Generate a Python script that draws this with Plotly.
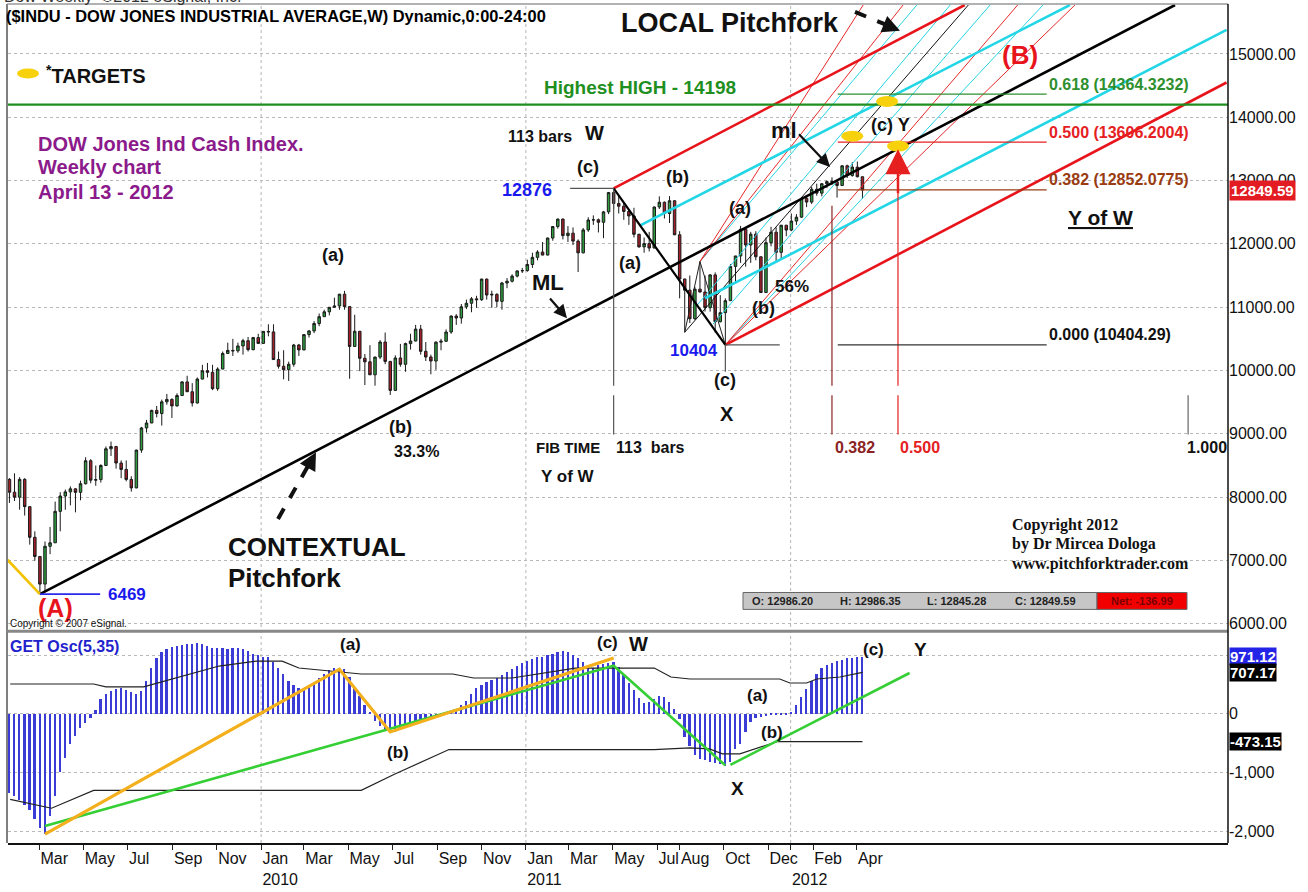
import plotly.graph_objects as go
import pandas as pd

# ---------------- data ----------------
first_week = "2009-01-19"
opens = [8281, 8078, 8000, 8281, 7850, 7366, 7063, 6627, 7224, 7279, 7776, 8018, 8083, 8131, 8076, 8212, 8575, 8268, 8277, 8500,
         8764, 8799, 8539, 8438, 8280, 8146, 8743, 9093, 9171, 9370, 9321, 9505, 9544, 9441, 9605, 9820, 9665, 9487, 9865, 9996,
         9972, 9713, 10023, 10270, 10318, 10310, 10388, 10471, 10329, 10520, 10428, 10618, 10610, 10173, 10067, 10013, 10099, 10403, 10325, 10567,
         10625, 10742, 10850, 10927, 10998, 11019, 11205, 11009, 10380, 10620, 10193, 10137, 9932, 10212, 10450, 10144, 9686, 10198, 10098, 10425,
         10466, 10654, 10303, 10213, 10150, 10448, 10462, 10608, 10860, 10829, 11006, 11062, 11132, 11118, 11444, 11192, 11203, 11092, 11382, 11410,
         11491, 11573, 11578, 11674, 11787, 11871, 11823, 12092, 12273, 12391, 12130, 12169, 12044, 11858, 12220, 12377, 12380, 12341, 12505, 12810,
         12638, 12595, 12512, 12441, 12151, 11952, 12004, 11934, 12582, 12657, 12480, 12681, 12143, 11445, 11269, 10818, 11285, 11240, 10992, 11510,
         10771, 10913, 11103, 11644, 11809, 12231, 11983, 12153, 11796, 11231, 12019, 12184, 11866, 12294, 12218, 12360, 12422, 12720, 12660, 12862,
         12801, 12950, 12983, 12978, 12922, 13233, 13081, 13212, 13060]
highs = [8300, 8376, 8315, 8300, 7850, 7460, 7063, 7300, 7530, 7930, 8078, 8120, 8170, 8140, 8260, 8630, 8600, 8500, 8520, 8800,
         8878, 8810, 8580, 8580, 8330, 8750, 9110, 9220, 9380, 9440, 9540, 9630, 9560, 9640, 9830, 9917, 9800, 9890, 10090, 10120,
         10090, 10050, 10300, 10440, 10500, 10440, 10500, 10530, 10530, 10580, 10620, 10730, 10730, 10300, 10320, 10140, 10420, 10420, 10570, 10640,
         10780, 10900, 10960, 11000, 11150, 11210, 11258, 11010, 10880, 10620, 10260, 10400, 10220, 10480, 10600, 10150, 10240, 10420, 10440, 10580,
         10720, 10720, 10450, 10250, 10460, 10500, 10650, 10870, 10890, 11050, 11120, 11160, 11180, 11450, 11450, 11260, 11220, 11400, 11460, 11520,
         11580, 11620, 11750, 11860, 11900, 12030, 12100, 12280, 12400, 12400, 12280, 12260, 12070, 12250, 12420, 12450, 12400, 12520, 12820, 12876,
         12760, 12650, 12530, 12570, 12160, 12100, 12190, 12590, 12750, 12670, 12753, 12690, 12200, 11450, 11500, 11320, 11720, 11500, 11520, 11550,
         11190, 11140, 11680, 11810, 12284, 12240, 12190, 12200, 11800, 12100, 12270, 12260, 12300, 12300, 12480, 12470, 12730, 12760, 12900, 12950,
         12960, 13000, 13050, 13000, 13240, 13250, 13290, 13300, 13060]
lows = [7909, 7939, 7802, 7709, 7250, 6996, 6469, 6517, 7100, 7279, 7460, 7800, 7870, 7760, 7950, 8200, 8220, 8180, 8230, 8500,
        8650, 8450, 8300, 8250, 8087, 8140, 8700, 9020, 9170, 9260, 9130, 9460, 9250, 9430, 9600, 9660, 9430, 9480, 9860, 9890,
        9690, 9680, 10020, 10260, 10230, 10280, 10250, 10300, 10320, 10420, 10430, 10540, 10170, 10030, 9860, 9835, 10060, 10230, 10320, 10520,
        10590, 10700, 10850, 10870, 10990, 10960, 10960, 9870, 10380, 9990, 9770, 9930, 9760, 10180, 10100, 9614, 9680, 10060, 9980, 10330,
        10460, 10250, 10150, 9940, 10010, 10320, 10450, 10580, 10720, 10740, 10970, 10920, 10990, 11100, 11120, 10990, 11000, 10960, 11300, 11390,
        11470, 11540, 11560, 11620, 11740, 11820, 11820, 12050, 12240, 12070, 12030, 11980, 11555, 11850, 12190, 12300, 12180, 12090, 12470, 12550,
        12480, 12380, 12300, 12100, 11940, 11860, 11880, 11930, 12550, 12400, 12330, 12140, 11140, 10604, 10750, 10800, 11230, 10930, 10930, 10600,
        10760, 10404, 11100, 11390, 11700, 11640, 11700, 11740, 11231, 11230, 11960, 11730, 11770, 12120, 12200, 12300, 12410, 12580, 12630, 12760,
        12750, 12880, 12930, 12730, 12920, 13040, 13060, 13050, 12710]
closes = [8078, 8000, 8281, 7850, 7366, 7063, 6627, 7224, 7279, 7776, 8018, 8083, 8131, 8076, 8212, 8575, 8268, 8277, 8500, 8764,
          8799, 8539, 8438, 8280, 8146, 8743, 9093, 9171, 9370, 9321, 9505, 9544, 9441, 9605, 9820, 9665, 9487, 9865, 9996, 9972,
          9713, 10023, 10270, 10318, 10310, 10388, 10471, 10329, 10520, 10428, 10618, 10610, 10173, 10067, 10013, 10099, 10403, 10325, 10567, 10625,
          10742, 10850, 10927, 10998, 11019, 11205, 11009, 10380, 10620, 10193, 10137, 9932, 10212, 10450, 10144, 9686, 10198, 10098, 10425, 10466,
          10654, 10303, 10213, 10150, 10448, 10462, 10608, 10860, 10829, 11006, 11062, 11132, 11118, 11444, 11192, 11203, 11092, 11382, 11410, 11491,
          11573, 11578, 11674, 11787, 11871, 11823, 12092, 12273, 12391, 12130, 12169, 12044, 11858, 12220, 12377, 12380, 12341, 12505, 12810, 12638,
          12595, 12512, 12441, 12151, 11952, 12004, 11934, 12582, 12657, 12480, 12681, 12143, 11445, 11269, 10818, 11285, 11240, 10992, 11510, 10771,
          10913, 11103, 11644, 11809, 12231, 11983, 12153, 11796, 11231, 12019, 12184, 11866, 12294, 12218, 12360, 12422, 12720, 12660, 12862, 12801,
          12950, 12983, 12978, 12922, 13233, 13081, 13212, 13060, 12850]
osc = [-1350, -1400, -1480, -1560, -1650, -1800, -1950, -2050, -1750, -1400, -1000, -750, -520, -380, -250, -160, -80, 60, 250, 330,
       380, 420, 440, 400, 370, 330, 380, 560, 780, 950, 1050, 1100, 1130, 1150, 1170, 1180, 1190, 1200, 1180, 1150,
       1120, 1110, 1110, 1100, 1110, 1120, 1100, 1060, 1020, 990, 960, 960, 880, 780, 680, 560, 480, 440, 420, 450,
       520, 600, 680, 740, 770, 780, 760, 620, 450, 300, 150, 20, -120, -220, -280, -310, -320, -280, -240, -200,
       -150, -110, -80, -60, -40, -20, 20, 40, 70, 150, 220, 330, 430, 480, 540, 570, 610, 660, 710, 760,
       810, 860, 890, 930, 960, 970, 990, 1020, 1050, 1060, 1050, 1000, 940, 880, 800, 780, 820, 840, 860, 880,
       800, 670, 520, 400, 260, 180, 200, 250, 300, 280, 200, 80, -100, -400, -550, -700, -770, -800, -820, -850,
       -860, -900, -820, -600, -520, -320, -150, -80, -60, -40, -30, -20, -15, -10, 30, 150, 280, 420, 560, 680,
       770, 830, 870, 900, 920, 940, 950, 960, 971]

upper_band_dates = ["2009-01-20", "2009-05-15", "2009-06-01", "2009-07-23", "2009-11-04", "2009-12-26", "2010-01-30",
                    "2010-02-22", "2010-05-19", "2010-09-22", "2010-10-21", "2010-12-13", "2011-03-10", "2011-06-27",
                    "2011-07-20", "2011-08-15", "2011-12-17", "2011-12-31", "2012-01-23", "2012-02-06", "2012-03-09", "2012-04-09"]
upper_band_vals = [508, 508, 458, 458, 814, 898, 898, 780, 678, 678, 610, 610, 780, 780, 627, 593, 593, 525, 525, 593, 627, 707.17]
lower_band_dates = ["2009-01-20", "2009-03-18", "2009-05-15", "2010-05-19", "2010-07-03", "2010-09-17", "2011-06-27",
                    "2011-08-15", "2011-09-11", "2011-09-29", "2011-10-23", "2011-12-14", "2012-04-09"]
lower_band_vals = [-1458, -1610, -1305, -1305, -1034, -610, -610, -582, -599, -684, -684, -473.15, -473.15]

orange_dates = ["2009-03-09", "2010-04-19", "2010-06-28", "2011-05-02"]
orange_vals = [-2050, 760, -310, 950]
green1_dates = ["2009-03-09", "2011-05-02", "2011-10-03"]
green1_vals = [-1915, 820, -880]
green2_dates = ["2011-10-10", "2012-06-13"]
green2_vals = [-870, 695]

month_ticks = ["2009-03-01", "2009-05-01", "2009-07-01", "2009-09-01", "2009-11-01", "2010-01-01", "2010-03-01",
               "2010-05-01", "2010-07-01", "2010-09-01", "2010-11-01", "2011-01-01", "2011-03-01", "2011-05-01",
               "2011-07-01", "2011-08-01", "2011-10-01", "2011-12-01", "2012-01-01", "2012-02-01", "2012-04-01"]
month_labels = ["Mar", "May", "Jul", "Sep", "Nov", "Jan<br>2010", "Mar", "May", "Jul", "Sep", "Nov", "Jan<br>2011",
                "Mar", "May", "Jul", "Aug", "Oct", "Dec", " <br>2012", "Feb", "Apr"]
year_starts = ["2010-01-01", "2011-01-01", "2012-01-01"]
price_ticks = [6000, 7000, 8000, 9000, 10000, 11000, 12000, 13000, 14000, 15000]
price_tick_labels = ["6000.00", "7000.00", "8000.00", "9000.00", "10000.00", "11000.00", "12000.00", "13000.00",
                     "14000.00", "15000.00"]
osc_ticks = [-2000, -1000, 0, 1000]
osc_tick_labels = ["-2,000", "-1,000", "0", ""]

highest_high = 14198
last_close = 12849.59
osc_tags = [971.12, 707.17, -473.15]
fib_levels = [14364.3232, 13606.2004, 12852.0775, 10404.29]
fib_names = ["0.618 (14364.3232)", "0.500 (13606.2004)", "0.382 (12852.0775)", "0.000 (10404.29)"]
fib_span = ["2012-03-06", "2012-12-19"]

# pitchfork / trend lines: (x0, y0, x1, y1)
context_ml = ("2009-03-02", 6469, "2013-06-14", 15772)
context_red = [("2011-05-02", 12876, "2012-08-28", 15772), ("2011-10-03", 10404, "2013-08-24", 14548)]
context_cyan = [("2011-06-07", 12287, "2013-01-20", 15772), ("2011-09-05", 11141, "2013-08-24", 15380)]
local_red = [("2011-08-29", 11720, "2012-06-04", 15772), ("2011-10-03", 10404, "2012-11-09", 15772),
             ("2011-08-29", 11720, "2012-04-10", 15772), ("2011-10-03", 10404, "2013-01-27", 15772)]
local_cyan = [("2011-08-25", 11030, "2012-08-08", 15772), ("2011-09-16", 10733, "2012-10-02", 15772),
              ("2011-10-03", 10404, "2012-12-14", 15772), ("2011-08-29", 11720, "2012-06-23", 15772)]
local_ml = ("2011-08-08", 10604, "2012-09-02", 15772)
local_handle_dates = ["2011-08-08", "2011-08-29", "2011-10-03"]
local_handle_vals = [10604, 11720, 10404]
w_to_x = ("2011-05-02", 12876, "2011-10-03", 10404)
yellow_handle = ("2009-01-15", 7028, "2009-03-02", 6469)
targets_dates = ["2012-03-26", "2012-05-13", "2012-05-28"]
targets_vals = [13700, 14250, 13545]

# time verticals: (date, y_top, y_bottom, color)
time_lines = [("2011-05-02", 12876, 9760, "#555555"), ("2011-05-02", 9610, 8990, "#555555"),
              ("2011-10-03", 10404, 9980, "#555555"),
              ("2012-02-27", 12600, 9760, "#8b2323"), ("2012-02-27", 9610, 8990, "#8b2323"),
              ("2012-05-28", 13300, 9760, "#e5201f"), ("2012-05-28", 9610, 8990, "#e5201f"),
              ("2013-07-02", 9610, 8990, "#666666")]
# short horizontal levels: (x0, x1, level, color)
short_levels = [("2011-03-03", "2011-05-02", 12876, "#555555"), ("2011-10-03", "2011-12-17", 10404, "#555555"),
                ("2009-03-02", "2009-05-24", 6469, "#2a2aee")]

# ---------------- layout geometry ----------------
WIDTH, HEIGHT = 1308, 892
PL, PR, PT, PB = 8, 1228, 4, 848
SEP = 635
ARIAL = "Liberation Sans, Arial, sans-serif"
SERIF = "Liberation Serif, Times New Roman, serif"


def PX(x):
    return (x - PL) / (PR - PL)


def PY(y):
    return (PB - y) / (PB - PT)


dates = pd.date_range(first_week, periods=len(closes), freq="7D")

fig = go.Figure()

fig.add_trace(go.Candlestick(
    x=dates, open=opens, high=highs, low=lows, close=closes,
    increasing=dict(fillcolor="#2e9c3f", line=dict(color="#1a1a1a", width=1)),
    decreasing=dict(fillcolor="#a3202b", line=dict(color="#1a1a1a", width=1)),
    whiskerwidth=0, xaxis="x", yaxis="y", hoverinfo="skip", showlegend=False))


def seg(x0, y0, x1, y1, color, width, yaxis="y", dash=None):
    fig.add_trace(go.Scatter(x=[x0, x1], y=[y0, y1], mode="lines", xaxis="x", yaxis=yaxis,
                             line=dict(color=color, width=width, dash=dash), hoverinfo="skip", showlegend=False))


# main panel lines
for (x0, y0, x1, y1) in local_cyan:
    seg(x0, y0, x1, y1, "#27d3e3", 1)
for (x0, y0, x1, y1) in local_red:
    seg(x0, y0, x1, y1, "#e42a2a", 1)
seg(*local_ml, "#111111", 1)
fig.add_trace(go.Scatter(x=local_handle_dates, y=local_handle_vals, mode="lines", xaxis="x", yaxis="y",
                         line=dict(color="#222222", width=1), hoverinfo="skip", showlegend=False))
for (x0, y0, x1, y1) in context_cyan:
    seg(x0, y0, x1, y1, "#22d6e6", 2.6)
for (x0, y0, x1, y1) in context_red:
    seg(x0, y0, x1, y1, "#e8141c", 2.6)
seg(*context_ml, "#000000", 2.6)
seg(*w_to_x, "#000000", 2.2)
seg(*yellow_handle, "#f2c200", 2.6)

for (d, yt, yb, c) in time_lines:
    seg(d, yt, d, yb, c, 1.2)
for (x0, x1, lv, c) in short_levels:
    seg(x0, lv, x1, lv, c, 1.6 if c == "#2a2aee" else 1.2)
fib_colors = ["#2e8f2e", "#e5201f", "#9a3c12", "#333333"]
for lv, c in zip(fib_levels, fib_colors):
    seg(fib_span[0], lv, fib_span[1], lv, c, 1.2)

# lower panel: oscillator
fig.add_trace(go.Bar(x=dates, y=osc, xaxis="x", yaxis="y2", width=2.4 * 86400000,
                     marker=dict(color="#3b3bd6", line=dict(width=0)), hoverinfo="skip", showlegend=False))
fig.add_trace(go.Scatter(x=upper_band_dates, y=upper_band_vals, mode="lines", xaxis="x", yaxis="y2",
                         line=dict(color="#222222", width=1.2), hoverinfo="skip", showlegend=False))
fig.add_trace(go.Scatter(x=lower_band_dates, y=lower_band_vals, mode="lines", xaxis="x", yaxis="y2",
                         line=dict(color="#222222", width=1.2), hoverinfo="skip", showlegend=False))
fig.add_trace(go.Scatter(x=green1_dates, y=green1_vals, mode="lines", xaxis="x", yaxis="y2",
                         line=dict(color="#35cf35", width=2.6), hoverinfo="skip", showlegend=False))
fig.add_trace(go.Scatter(x=green2_dates, y=green2_vals, mode="lines", xaxis="x", yaxis="y2",
                         line=dict(color="#35cf35", width=2.6), hoverinfo="skip", showlegend=False))
fig.add_trace(go.Scatter(x=orange_dates, y=orange_vals, mode="lines", xaxis="x", yaxis="y2",
                         line=dict(color="#f3b01c", width=3.2), hoverinfo="skip", showlegend=False))

shapes = []
# highest high line (full width)
shapes.append(dict(type="line", xref="paper", x0=0, x1=1, yref="y", y0=highest_high, y1=highest_high,
                   line=dict(color="#1f8f1f", width=2.2)))
# year grid lines
for d in year_starts:
    shapes.append(dict(type="line", xref="x", x0=d, x1=d, yref="paper", y0=0, y1=1,
                       line=dict(color="#b5b5b5", width=1, dash="dot"), layer="below"))
# targets (yellow ovals)
for d, v in zip(targets_dates, targets_vals):
    shapes.append(dict(type="circle", xref="x", yref="y", xsizemode="pixel", ysizemode="pixel",
                       xanchor=d, yanchor=v, x0=-11, x1=11, y0=-5.5, y1=5.5,
                       fillcolor="#f6d10c", line=dict(width=0)))
# legend oval
shapes.append(dict(type="circle", xref="paper", yref="paper", x0=PX(17), x1=PX(39), y0=PY(69), y1=PY(79),
                   fillcolor="#f6d10c", line=dict(width=0)))
# frame
shapes += [
    dict(type="line", xref="paper", yref="paper", x0=PX(7), x1=PX(7), y0=0, y1=1, line=dict(color="#555", width=1.5)),
    dict(type="line", xref="paper", yref="paper", x0=PX(7), x1=1, y0=1, y1=1, line=dict(color="#999", width=1.5)),
    dict(type="line", xref="paper", yref="paper", x0=PX(7), x1=1, y0=PY(SEP), y1=PY(SEP), line=dict(color="#888", width=3)),
    dict(type="line", xref="paper", yref="paper", x0=1, x1=1, y0=0, y1=1, line=dict(color="#111", width=1.5)),
]
# OHLC status box
shapes += [
    dict(type="rect", xref="paper", yref="paper", x0=PX(743), x1=PX(1097), y0=PY(613), y1=PY(596),
         fillcolor="#c6c6c6", line=dict(color="#666", width=1)),
    dict(type="rect", xref="paper", yref="paper", x0=PX(1097), x1=PX(1187), y0=PY(613), y1=PY(596),
         fillcolor="#f20000", line=dict(color="#666", width=1)),
]
# dashed arrow shafts
shapes += [
    dict(type="line", xref="paper", yref="paper", x0=PX(855), y0=PY(12), x1=PX(889), y1=PY(26),
         line=dict(color="#111", width=4, dash="dash")),
    dict(type="line", xref="paper", yref="paper", x0=PX(278), y0=PY(522), x1=PX(309), y1=PY(467),
         line=dict(color="#111", width=4, dash="dash")),
]

ann = []


def lab(text, x, y, size=18, color="#111111", xanchor="center", family=ARIAL, bold=True):
    ann.append(dict(text=("<b>%s</b>" % text) if bold else text, x=PX(x), y=PY(y), xref="paper", yref="paper",
                    xanchor=xanchor, yanchor="middle", showarrow=False,
                    font=dict(size=size, color=color, family=family)))


def arrow(x, y, ax, ay, color="#111111", width=2.2, head=2, size=1.2):
    ann.append(dict(text=" ", x=PX(x), y=PY(y), xref="paper", yref="paper", ax=ax, ay=ay,
                    showarrow=True, arrowhead=head, arrowsize=size, arrowwidth=width, arrowcolor=color,
                    font=dict(size=4)))


lab("Dow Weekly  ©2012 eSignal, Inc.", 2, -4, 16, "#333333", "left", bold=False)
lab("($INDU - DOW JONES INDUSTRIAL AVERAGE,W) Dynamic,0:00-24:00", 4, 16, 16.4, "#000", "left")
lab("<sup>*</sup>TARGETS", 44, 75, 20, "#111", "left")
lab("LOCAL Pitchfork", 730, 23, 27)
lab("(B)", 1020, 55, 26, "#e8141c")
lab("Highest HIGH - 14198", 640, 88, 19, "#1f8f1f")
purple = "#8b1a8b"
lab("DOW Jones Ind Cash Index.", 36, 145, 20, purple, "left")
lab("Weekly chart", 36, 168, 20, purple, "left")
lab("April 13 - 2012", 36, 193, 20, purple, "left")
lab("113 bars", 540, 137, 16)
lab("W", 594, 134, 20)
lab("(c)", 588, 168, 18)
lab("12876", 527, 191, 18, "#1a1aee")
lab("(b)", 677, 178, 18)
lab("(a)", 333, 256, 18)
lab("ML", 548, 284, 22)
lab("(a)", 630, 265, 18)
lab("(a)", 740, 209, 18)
lab("ml", 784, 131, 22)
lab("(c) Y", 890, 126, 18)
lab("56%", 792, 288, 17)
lab("(b)", 763, 310, 18)
lab("10404", 694, 353, 17, "#1a1aee")
lab("(c)", 725, 382, 18)
lab("X", 727, 416, 20)
lab("(b)", 400, 430, 18)
lab("33.3%", 416, 454, 16)
lab("FIB TIME", 568, 450, 15)
lab("113  bars", 650, 450, 16)
lab("Y of W", 568, 479, 17)
lab("0.382", 855, 450, 16, "#8b2323")
lab("0.500", 920, 450, 16, "#e5201f")
lab("1.000", 1207, 450, 16)
for name, lv, c in zip(fib_names, fib_levels, ["#2e8f2e", "#e5201f", "#9a3c12", "#111111"]):
    ann.append(dict(text="<b>%s</b>" % name, x=PX(1047), xref="paper", y=lv, yref="y", yshift=10,
                    xanchor="left", yanchor="middle", showarrow=False, font=dict(size=16, color=c, family=ARIAL)))
lab("<u>Y of W</u>", 1100, 219, 21)
lab("CONTEXTUAL", 226, 550, 26, "#111", "left")
lab("Pitchfork", 226, 581, 26, "#111", "left")
lab("6469", 106, 598, 17, "#1a1aee", "left")
lab("(A)", 55, 612, 25, "#e8141c")
lab("Copyright © 2007 eSignal.", 8, 627, 10, "#111", "left", bold=False)
lab("Copyright 2012", 1010, 528, 16, "#111", "left", SERIF)
lab("by Dr Mircea Dologa", 1010, 547, 16, "#111", "left", SERIF)
lab("www.pitchforktrader.com", 1010, 567, 16, "#111", "left", SERIF)
lab("O: 12986.20", 750, 604.5, 11, "#222", "left")
lab("H: 12986.35", 838, 604.5, 11, "#222", "left")
lab("L: 12845.28", 925, 604.5, 11, "#222", "left")
lab("C: 12849.59", 1013, 604.5, 11, "#222", "left")
lab("Net: -136.99", 1142, 604.5, 11, "#7a0000")
# lower panel labels
lab("GET Osc(5,35)", 8, 650, 16, "#2222cc", "left")
lab("(a)", 350, 648, 17)
lab("(c)", 607, 646, 17)
lab("W", 638, 648, 20)
lab("(b)", 398, 757, 17)
lab("(a)", 757, 700, 17)
lab("(b)", 772, 737, 17)
lab("X", 737, 793, 19)
lab("(c)", 873, 653, 17)
lab("Y", 920, 653, 19)

# arrows
arrow(567, 320, -19, -22)
arrow(830, 168, -33, -35)
arrow(900, 31, -12, -5, width=3.5, size=1.0)
arrow(316, 455, -6, 11, width=3.5, size=1.0)
arrow(898, 150, 0, 48, color="#e5201f", width=2.5, size=2.0)

# right-axis value tags
ann.append(dict(text="<b>%.2f</b>" % last_close, x=1, xref="paper", xshift=1, y=last_close, yref="y",
                xanchor="left", yanchor="middle", showarrow=False, bgcolor="#e31b23", borderpad=1,
                font=dict(size=15, color="white", family=ARIAL)))
for v, bg in zip(osc_tags, ["#2424e6", "#000000", "#000000"]):
    ann.append(dict(text="<b>%.2f</b>" % v, x=1, xref="paper", xshift=1, y=v, yref="y2",
                    xanchor="left", yanchor="middle", showarrow=False, bgcolor=bg, borderpad=0,
                    font=dict(size=15, color="white", family=ARIAL)))

top_dom0 = PY(SEP)
fig.update_layout(
    width=WIDTH, height=HEIGHT,
    margin=dict(l=PL, r=WIDTH - PR, t=PT, b=HEIGHT - PB),
    paper_bgcolor="white", plot_bgcolor="white",
    showlegend=False, hovermode=False,
    xaxis=dict(type="date", range=["2009-01-17", "2013-08-26"], anchor="y2", rangeslider=dict(visible=False),
               tickvals=month_ticks, ticktext=month_labels, ticklabelposition="outside right", tickangle=0,
               ticks="outside", ticklen=5, tickcolor="#222", showgrid=False, zeroline=False,
               showline=True, linecolor="#111", linewidth=1.5,
               tickfont=dict(size=16, family=ARIAL, color="#111")),
    yaxis=dict(domain=[top_dom0, 1], range=[5882, 15788], side="right", anchor="x",
               tickvals=price_ticks, ticktext=price_tick_labels, ticks="", showgrid=True,
               gridcolor="#b8b8b8", griddash="dot", gridwidth=1, zeroline=False, showline=False,
               tickfont=dict(size=16, family=ARIAL, color="#111")),
    yaxis2=dict(domain=[0, PY(SEP + 1)], range=[-2203, 1390], side="right", anchor="x",
                tickvals=osc_ticks, ticktext=osc_tick_labels, ticks="", showgrid=True,
                gridcolor="#b8b8b8", griddash="dot", gridwidth=1, zeroline=False, showline=False,
                tickfont=dict(size=16, family=ARIAL, color="#111")),
    shapes=shapes, annotations=ann, bargap=0,
)

fig.write_html("out.html", config={"displayModeBar": False},
               post_script="document.body.style.margin='0';document.body.style.overflow='hidden';")
